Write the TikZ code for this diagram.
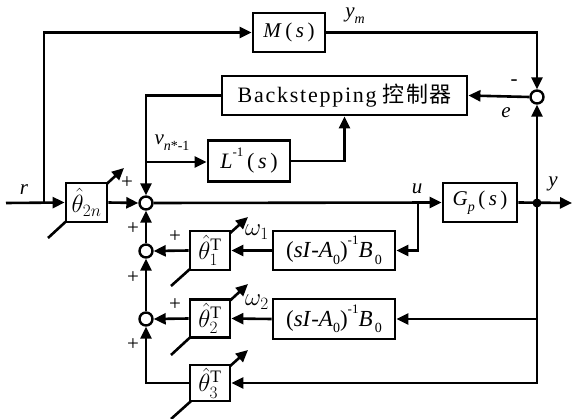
\documentclass[tikz,border=0pt]{standalone}
\usepackage{fontspec}
\setmainfont{Liberation Serif}
\newfontfamily\cjk[LetterSpace=6]{Noto Sans CJK SC}
\newfontfamily\bsfont[LetterSpace=8]{Liberation Serif}
\usetikzlibrary{arrows.meta,calc}
\newcommand{\iv}[1]{\textit{#1}}
\newcommand{\sbs}[1]{\raisebox{-0.3em}{\fontsize{14}{14}\selectfont #1}}
\newcommand{\sps}[1]{\raisebox{0.55em}{\fontsize{13}{13}\selectfont #1}}
\begin{document}
\begin{tikzpicture}[x=1pt,y=-1pt,
  line width=2.6pt,
  every node/.style={font=\fontsize{21}{24}\selectfont},
  blk/.style={draw,fill=white,rectangle,inner sep=0pt,line width=2.8pt},
  thb/.style={blk,minimum width=40pt,font=\fontsize{25}{28}\selectfont},
  sumc/.style={draw,fill=white,circle,minimum size=13pt,inner sep=0pt,line width=2.4pt},
  arr/.style={-{Triangle[length=12pt,width=11pt]}},
  lbl/.style={inner sep=0pt,font=\fontsize{21}{24}\selectfont}]
\path[use as bounding box] (0,0) rectangle (572,419);
% adjustable-parameter diagonals (drawn under the boxes)
\draw[arr] (48,238) -- (124,168);
\draw[arr] (171,286) -- (248,217);
\draw[arr] (171,355) -- (248,284);
\draw[arr] (171,419) -- (248,350);
% blocks
\node[blk,minimum width=72pt,minimum height=39pt] (M) at (289,32.5) {\iv{M}\,(\,\iv{s}\,)};
\node[blk,minimum width=245pt,minimum height=39pt,font=\fontsize{22}{24}\selectfont] (BS) at (344.5,95.5) {\bsfont Backstepping\kern6pt\cjk 控制器};
\node[blk,minimum width=82pt,minimum height=41pt,font=\fontsize{22}{24}\selectfont] (L) at (249,161) {\iv{L}\sps{-1}\,(\,\iv{s}\,)};
\node[thb,minimum width=41pt,minimum height=39pt] (T2n) at (86.5,202.5) {$\hat{\theta}_{2n}$};
\node[blk,minimum width=74pt,minimum height=39pt] (Gp) at (480,202.5) {\iv{G}\sbs{\iv{p}}\,(\,\iv{s}\,)};
\node[thb,minimum height=39pt] (T1) at (210,250.5) {$\hat{\theta}_1^{\mathrm{T}}$};
\node[blk,minimum width=122pt,minimum height=39pt,font=\fontsize{23}{24}\selectfont] (A1) at (334,250.5) {(\iv{sI}-\iv{A}\sbs{0})\sps{-1}\iv{B}\sbs{\,0}};
\node[thb,minimum height=38pt] (T2) at (210,318.5) {$\hat{\theta}_2^{\mathrm{T}}$};
\node[blk,minimum width=122pt,minimum height=40pt,font=\fontsize{23}{24}\selectfont] (A2) at (334,319) {(\iv{sI}-\iv{A}\sbs{0})\sps{-1}\iv{B}\sbs{\,0}};
\node[thb,minimum height=36pt] (T3) at (210,383) {$\hat{\theta}_3^{\mathrm{T}}$};
% summing junctions
\node[sumc] (S1) at (146,203) {};
\node[sumc] (S2) at (146,251) {};
\node[sumc] (S3) at (146,319) {};
\node[sumc] (SE) at (537,97) {};
\fill (537,203) circle (4.5pt) coordinate (D);
\coordinate (IN) at (6,203);
\coordinate (RB) at (44,203);
\coordinate (VB) at (146,162);
\coordinate (UB) at (418,203);
\coordinate (OUT) at (572,203);
\coordinate (YB) at (537,319);
% connectors
\draw[arr] (IN) -- (T2n.west);
\draw[arr] (RB) |- (M.west);
\draw[arr] (T2n.east) -- (S1.west);
\draw[arr] (BS.west) -| (S1.north);
\draw[arr] (VB) -- (VB -| L.west);
\draw[arr] (L.east) -| (BS.south);
\draw[arr] (M.east) -| (SE.north);
\draw[arr] (SE.west) -- (BS.east);
\draw[arr] (S1.east) -- (Gp.west);
\draw[arr] (Gp.east) -- (OUT);
\draw[arr] (D) -- (SE.south);
\draw[arr] (UB) |- (A1.east);
\draw[arr] (A1.west) -- (T1.east);
\draw[arr] (T1.west) -- (S2.east);
\draw[arr] (S2.north) -- (S1.south);
\draw[arr] (D) |- (T3.east);
\draw[arr] (YB) -- (A2.east);
\draw[arr] (A2.west) -- (T2.east);
\draw[arr] (T2.west) -- (S3.east);
\draw[arr] (S3.north) -- (S2.south);
\draw[arr] (T3.west) -| (S3.south);
% labels
\node[lbl] (lr) at (24,190) {\iv{r}};
\node[lbl] (p0) at (127,183) {+};
\node[lbl] (p1) at (133,229) {+};
\node[lbl] (p2) at (175,237) {+};
\node[lbl] (p3) at (133,278) {+};
\node[lbl] (p4) at (175,305) {+};
\node[lbl] (p5) at (133,345) {+};
\node[lbl] (lv) at (172,143) {\iv{v}\sbs{\iv{n}*-1}};
\node[lbl] (lym) at (355,16) {\iv{y}\sbs{\iv{m}}};
\node[lbl] (lminus) at (514,83) {-};
\node[lbl] (le) at (506,113) {\iv{e}};
\node[lbl] (lu) at (417,189) {\iv{u}};
\node[lbl] (ly) at (553,184) {\iv{y}};
\node[lbl,font=\fontsize{23}{24}\selectfont] (lw1) at (257,232) {$\omega_1$};
\node[lbl,font=\fontsize{23}{24}\selectfont] (lw2) at (257,302) {$\omega_2$};
\end{tikzpicture}
\end{document}
